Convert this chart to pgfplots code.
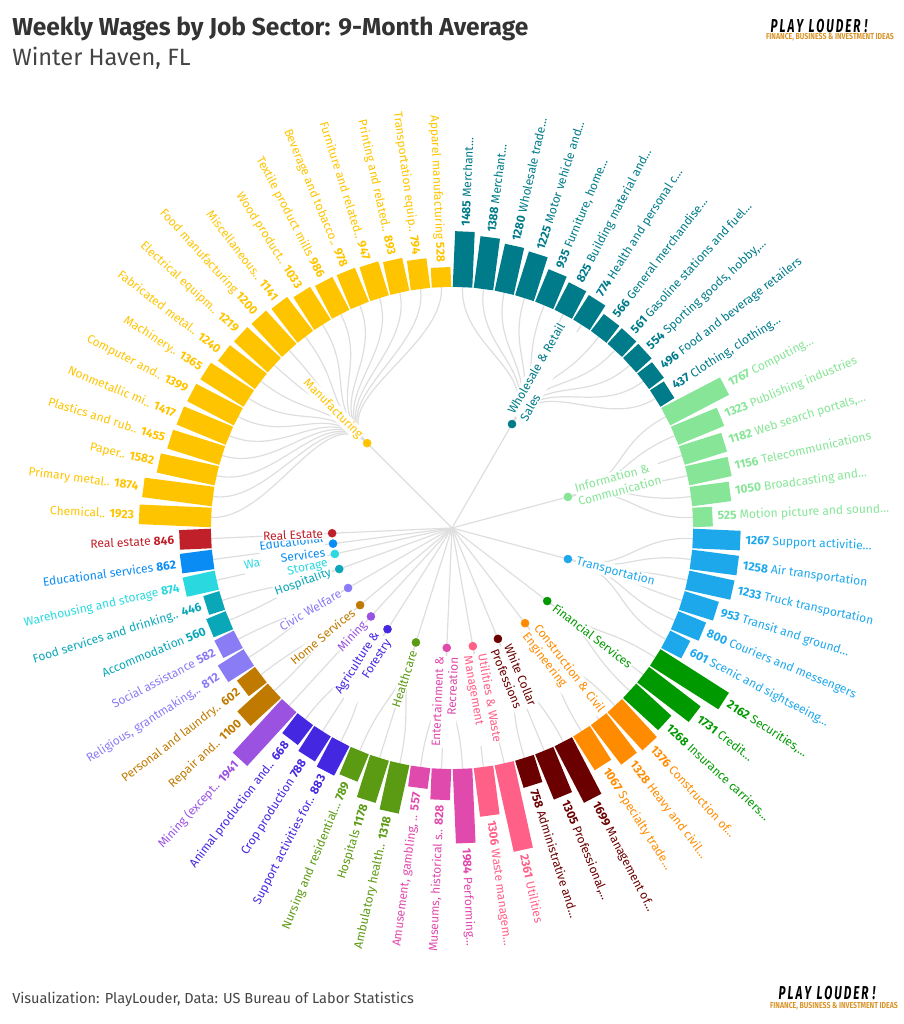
\documentclass[border=0pt]{standalone}
\usepackage{fontspec}
\setmainfont{Fira Sans}
\usepackage{pgfplots}
\usepackage{pgfplotstable}
\pgfplotsset{compat=1.18}

\definecolor{gc0}{RGB}{0,123,138}
\definecolor{gc1}{RGB}{134,229,150}
\definecolor{gc2}{RGB}{30,168,236}
\definecolor{gc3}{RGB}{0,153,0}
\definecolor{gc4}{RGB}{255,140,0}
\definecolor{gc5}{RGB}{107,0,0}
\definecolor{gc6}{RGB}{255,96,136}
\definecolor{gc7}{RGB}{224,74,173}
\definecolor{gc8}{RGB}{91,154,19}
\definecolor{gc9}{RGB}{68,39,224}
\definecolor{gc10}{RGB}{155,82,224}
\definecolor{gc11}{RGB}{192,122,0}
\definecolor{gc12}{RGB}{138,124,245}
\definecolor{gc13}{RGB}{10,167,184}
\definecolor{gc14}{RGB}{42,217,224}
\definecolor{gc15}{RGB}{10,140,245}
\definecolor{gc16}{RGB}{192,32,42}
\definecolor{gc17}{RGB}{255,196,0}
\definecolor{treegray}{RGB}{222,222,222}
\definecolor{titlegray}{RGB}{51,51,51}
\definecolor{subgray}{RGB}{68,68,68}
\definecolor{logoorange}{RGB}{217,149,43}

\newcommand\lblfont{\fontsize{9}{10.8}\selectfont}

\pgfplotstableread[col sep=semicolon]{
idx;g;val;lbl
0;0;1485;\textbf{1485} Merchant…
1;0;1388;\textbf{1388} Merchant…
2;0;1280;\textbf{1280} Wholesale trade…
3;0;1225;\textbf{1225} Motor vehicle and…
4;0;935;\textbf{935} Furniture, home…
5;0;825;\textbf{825} Building material and…
6;0;774;\textbf{774} Health and personal c…
7;0;566;\textbf{566} General merchandise…
8;0;561;\textbf{561} Gasoline stations and fuel…
9;0;554;\textbf{554} Sporting goods, hobby,…
10;0;496;\textbf{496} Food and beverage retailers
11;0;437;\textbf{437} Clothing, clothing…
12;1;1767;\textbf{1767} Computing…
13;1;1323;\textbf{1323} Publishing industries
14;1;1182;\textbf{1182} Web search portals,…
15;1;1156;\textbf{1156} Telecommunications
16;1;1050;\textbf{1050} Broadcasting and…
17;1;525;\textbf{525} Motion picture and sound…
18;2;1267;\textbf{1267} Support activitie…
19;2;1258;\textbf{1258} Air transportation
20;2;1233;\textbf{1233} Truck transportation
21;2;953;\textbf{953} Transit and ground…
22;2;800;\textbf{800} Couriers and messengers
23;2;601;\textbf{601} Scenic and sightseeing…
24;3;2162;\textbf{2162} Securities,…
25;3;1731;\textbf{1731} Credit…
26;3;1268;\textbf{1268} Insurance carriers…
27;4;1376;\textbf{1376} Construction of…
28;4;1328;\textbf{1328} Heavy and civil…
29;4;1067;\textbf{1067} Specialty trade…
30;5;1699;\textbf{1699} Management of…
31;5;1305;\textbf{1305} Professional,…
32;5;758;\textbf{758} Administrative and…
33;6;2361;\textbf{2361} Utilities
34;6;1306;\textbf{1306} Waste managem…
35;7;1984;\textbf{1984} Performing…
36;7;828;Museums, historical s.. \textbf{828}
37;7;557;Amusement, gambling, .. \textbf{557}
38;8;1318;Ambulatory health.. \textbf{1318}
39;8;1178;Hospitals \textbf{1178}
40;8;789;Nursing and residential… \textbf{789}
41;9;883;Support activities for.. \textbf{883}
42;9;788;Crop production \textbf{788}
43;9;668;Animal production and.. \textbf{668}
44;10;1941;Mining (except.. \textbf{1941}
45;11;1100;Repair and.. \textbf{1100}
46;11;602;Personal and laundry.. \textbf{602}
47;12;812;Religious, grantmaking,.. \textbf{812}
48;12;582;Social assistance \textbf{582}
49;13;560;Accommodation \textbf{560}
50;13;446;Food services and drinking.. \textbf{446}
51;14;874;Warehousing and storage \textbf{874}
52;15;862;Educational services \textbf{862}
53;16;846;Real estate \textbf{846}
54;17;1923;Chemical.. \textbf{1923}
55;17;1874;Primary metal.. \textbf{1874}
56;17;1582;Paper.. \textbf{1582}
57;17;1455;Plastics and rub.. \textbf{1455}
58;17;1417;Nonmetallic mi.. \textbf{1417}
59;17;1399;Computer and.. \textbf{1399}
60;17;1365;Machinery.. \textbf{1365}
61;17;1240;Fabricated metal.. \textbf{1240}
62;17;1219;Electrical equipm.. \textbf{1219}
63;17;1200;Food manufacturing \textbf{1200}
64;17;1141;Miscellaneous.. \textbf{1141}
65;17;1033;Wood product.. \textbf{1033}
66;17;986;Textile product mills \textbf{986}
67;17;978;Beverage and tobacco.. \textbf{978}
68;17;947;Furniture and related.. \textbf{947}
69;17;893;Printing and related.. \textbf{893}
70;17;794;Transportation equip.. \textbf{794}
71;17;528;Apparel manufacturing \textbf{528}
}\bars

\pgfplotstableread[col sep=semicolon]{
g;ang
0;60
1;15
2;-15
3;-37.5
4;-52.5
5;-67.5
6;-80
7;-92.5
8;-107.5
9;-122.5
10;-132.5
11;-140
12;-150
13;-160
14;-167.5
15;-172.5
16;-177.5
17;135
}\groups

\begin{document}
\begin{tikzpicture}
\useasboundingbox (0,0) rectangle (677.25pt,768pt);

% tree links (pixel units, origin at chart centre)
\begin{scope}[x=0.75pt,y=0.75pt,shift={(452,496)}]
\foreach \g/\from/\to in {60/0/11,15/12/17,-15/18/23,-37.5/24/26,-52.5/27/29,-67.5/30/32,-80/33/34,-92.5/35/37,-107.5/38/40,-122.5/41/43,-132.5/44/44,-140/45/46,-150/47/48,-160/49/50,-167.5/51/51,-172.5/52/52,-177.5/53/53,135/54/71}{
  \draw[treegray,line width=0.9pt] (0,0) -- (\g:120);
  \foreach \i in {\from,...,\to}{
    \pgfmathsetmacro\a{87.5-5*\i}
    \draw[treegray,line width=0.9pt] (\g:120) .. controls (\g:180.5) and (\a:180.5) .. (\a:241);
  }
}
\end{scope}

\begin{axis}[
  at={(0,0)}, anchor=south west,
  width=677.25pt, height=768pt, scale only axis,
  xmin=0, xmax=903, ymin=0, ymax=1024,
  hide axis, clip=false,
]
% bars, one quiver plot per sector
\pgfplotsinvokeforeach{0,...,17}{
\addplot[draw=gc#1, line width=14.7pt,
  restrict expr to domain={\thisrow{g}}{#1:#1},
  quiver={u={0.0375*\thisrow{val}*cos(87.5-5*\thisrow{idx})},
          v={0.0375*\thisrow{val}*sin(87.5-5*\thisrow{idx})}}]
  table[x expr={452+241*cos(87.5-5*\thisrow{idx})},
        y expr={496+241*sin(87.5-5*\thisrow{idx})}] {\bars};
}

% value + name labels, per sector and side
\pgfplotsinvokeforeach{0,...,17}{
\addplot[only marks, mark=none, point meta=explicit symbolic,
  restrict expr to domain={\thisrow{g}+1000*(\thisrow{idx}>35)}{#1:#1},
  visualization depends on={87.5-5*\thisrow{idx} \as \rot},
  nodes near coords,
  nodes near coords style={rotate=\rot, anchor=west, text=gc#1, font=\lblfont, inner sep=0pt}]
  table[meta=lbl,
        x expr={452+(246+0.0375*\thisrow{val})*cos(87.5-5*\thisrow{idx})},
        y expr={496+(246+0.0375*\thisrow{val})*sin(87.5-5*\thisrow{idx})}] {\bars};
\addplot[only marks, mark=none, point meta=explicit symbolic,
  restrict expr to domain={\thisrow{g}+1000*(\thisrow{idx}<36)}{#1:#1},
  visualization depends on={267.5-5*\thisrow{idx} \as \rot},
  nodes near coords,
  nodes near coords style={rotate=\rot, anchor=east, text=gc#1, font=\lblfont, inner sep=0pt}]
  table[meta=lbl,
        x expr={452+(246+0.0375*\thisrow{val})*cos(87.5-5*\thisrow{idx})},
        y expr={496+(246+0.0375*\thisrow{val})*sin(87.5-5*\thisrow{idx})}] {\bars};
}

% group dots
\pgfplotsinvokeforeach{0,...,17}{
\addplot[only marks, mark=*, mark size=3pt, color=gc#1,
  restrict expr to domain={\thisrow{g}}{#1:#1}]
  table[x expr={452+120*cos(\thisrow{ang})}, y expr={496+120*sin(\thisrow{ang})}] {\groups};
}
\end{axis}

% group labels
\begin{scope}[x=0.75pt,y=0.75pt,shift={(452,496)},
  gl/.style={font=\lblfont, fill=white, inner sep=0.6pt}]
\node[gl,text=gc0,rotate=60,anchor=west,align=left] at (60:128) {Wholesale \& Retail\\Sales};
\node[gl,text=gc1,rotate=15,anchor=west,align=left] at (15:128) {Information \&\\Communication};
\node[gl,text=gc2,rotate=-15,anchor=west,align=left] at (-15:128) {Transportation};
\node[gl,text=gc3,rotate=-37.5,anchor=west,align=left] at (-37.5:128) {Financial Services};
\node[gl,text=gc4,rotate=-52.5,anchor=west,align=left] at (-52.5:128) {Construction \& Civil\\Engineering};
\node[gl,text=gc5,rotate=-67.5,anchor=west,align=left] at (-67.5:128) {White Collar\\Professions};
\node[gl,text=gc6,rotate=-80,anchor=west,align=left] at (-80:128) {Utilities \& Waste\\Management};
\node[gl,text=gc7,rotate=87.5,anchor=east,align=right] at (-92.5:128) {Entertainment \&\\Recreation};
\node[gl,text=gc8,rotate=72.5,anchor=east,align=right] at (-107.5:128) {Healthcare};
\node[gl,text=gc9,rotate=57.5,anchor=east,align=right] at (-122.5:128) {Agriculture \&\\Forestry};
\node[gl,text=gc10,rotate=47.5,anchor=east,align=right] at (-132.5:128) {Mining};
\node[gl,text=gc11,rotate=40,anchor=east,align=right] at (-140:128) {Home Services};
\node[gl,text=gc12,rotate=30,anchor=east,align=right] at (-150:128) {Civic Welfare};
\node[gl,text=gc13,rotate=20,anchor=east,align=right] at (-160:128) {Hospitality};
\node[gl,text=gc14,rotate=12.5,anchor=east,align=right] at (-167.5:128) {Warehousing \&\\Storage};
\node[gl,text=gc15,rotate=7.5,anchor=east,align=right] at (-172.5:128) {Educational\\Services};
\node[gl,text=gc16,rotate=2.5,anchor=east,align=right] at (-177.5:128) {Real Estate};
\node[gl,text=gc17,rotate=-45,anchor=east,align=right] at (135:128) {Manufacturing};
\end{scope}

% titles, footer, logos
\begin{scope}[x=0.75pt,y=0.75pt]
\node[anchor=base west,inner sep=0pt,text=titlegray,font=\fontsize{18.4}{22}\selectfont\bfseries] at (12,988) {Weekly Wages by Job Sector: 9-Month Average};
\node[anchor=base west,inner sep=0pt,text=subgray,font=\fontsize{17.7}{21}\selectfont] at (12,958) {Winter Haven, FL};
\node[anchor=base west,inner sep=0pt,text=subgray,font=\fontsize{10.9}{13}\selectfont] at (12,21) {Visualization: PlayLouder, Data: US Bureau of Labor Statistics};
\node[anchor=base,inner sep=0pt,font=\fontsize{14}{15}\selectfont\bfseries\itshape] at (819,991) {\scalebox{0.63}[1]{P\,L\,A\,Y\ \ L\,O\,U\,D\,E\,R\,\,!}};
\node[anchor=base,inner sep=0pt,text=logoorange,font=\fontsize{6.5}{7}\selectfont\bfseries] at (830,984) {\scalebox{0.8}[1]{FINANCE, BUSINESS \& INVESTMENT IDEAS}};
\node[anchor=base,inner sep=0pt,font=\fontsize{14}{15}\selectfont\bfseries\itshape] at (827,24) {\scalebox{0.63}[1]{P\,L\,A\,Y\ \ L\,O\,U\,D\,E\,R\,\,!}};
\node[anchor=base,inner sep=0pt,text=logoorange,font=\fontsize{6.5}{7}\selectfont\bfseries] at (834,16) {\scalebox{0.8}[1]{FINANCE, BUSINESS \& INVESTMENT IDEAS}};
\end{scope}
\end{tikzpicture}
\end{document}
